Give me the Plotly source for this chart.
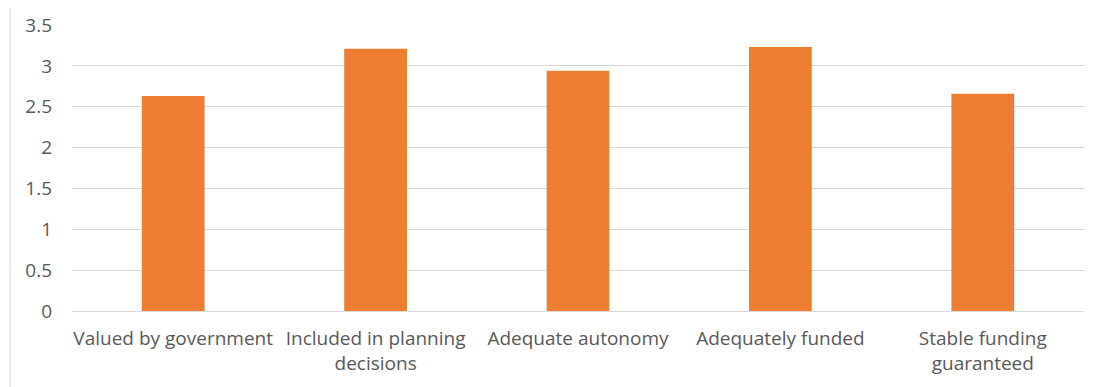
import plotly.graph_objects as go

categories = [
    "Valued by government",
    "Included in planning<br>decisions",
    "Adequate autonomy",
    "Adequately funded",
    "Stable funding<br>guaranteed",
]
scores = [2.63, 3.21, 2.94, 3.23, 2.66]
y_ticks = [0, 0.5, 1, 1.5, 2, 2.5, 3, 3.5]
y_tick_labels = ["0", "0.5", "1", "1.5", "2", "2.5", "3", "3.5"]

fig = go.Figure(
    go.Bar(
        x=categories,
        y=scores,
        marker=dict(color="#ED7D31", line=dict(width=0)),
        hoverinfo="x+y",
    )
)

font_family = "Open Sans, Liberation Sans, sans-serif"

fig.update_layout(
    width=1101,
    height=387,
    margin=dict(l=72, r=17, t=25, b=76),
    paper_bgcolor="white",
    plot_bgcolor="white",
    bargap=0.69,
    showlegend=False,
    font=dict(family=font_family, size=19, color="#595959"),
    xaxis=dict(
        showgrid=False,
        showline=False,
        ticks="",
        tickfont=dict(size=19, color="#595959"),
        ticklabelstandoff=14,
    ),
    yaxis=dict(
        range=[0, 3.5],
        tickvals=y_ticks,
        ticktext=y_tick_labels,
        showgrid=True,
        gridcolor="#D9D9D9",
        gridwidth=1,
        zeroline=True,
        zerolinecolor="#D9D9D9",
        zerolinewidth=1,
        showline=False,
        ticks="",
        tickfont=dict(size=19, color="#595959"),
        ticklabelstandoff=19,
    ),
    shapes=[
        dict(
            type="line",
            xref="paper",
            yref="paper",
            x0=-0.0612,
            x1=-0.0612,
            y0=-0.27,
            y1=1.06,
            line=dict(color="#D9D9D9", width=1),
        )
    ],
)

fig.write_html("out.html")
